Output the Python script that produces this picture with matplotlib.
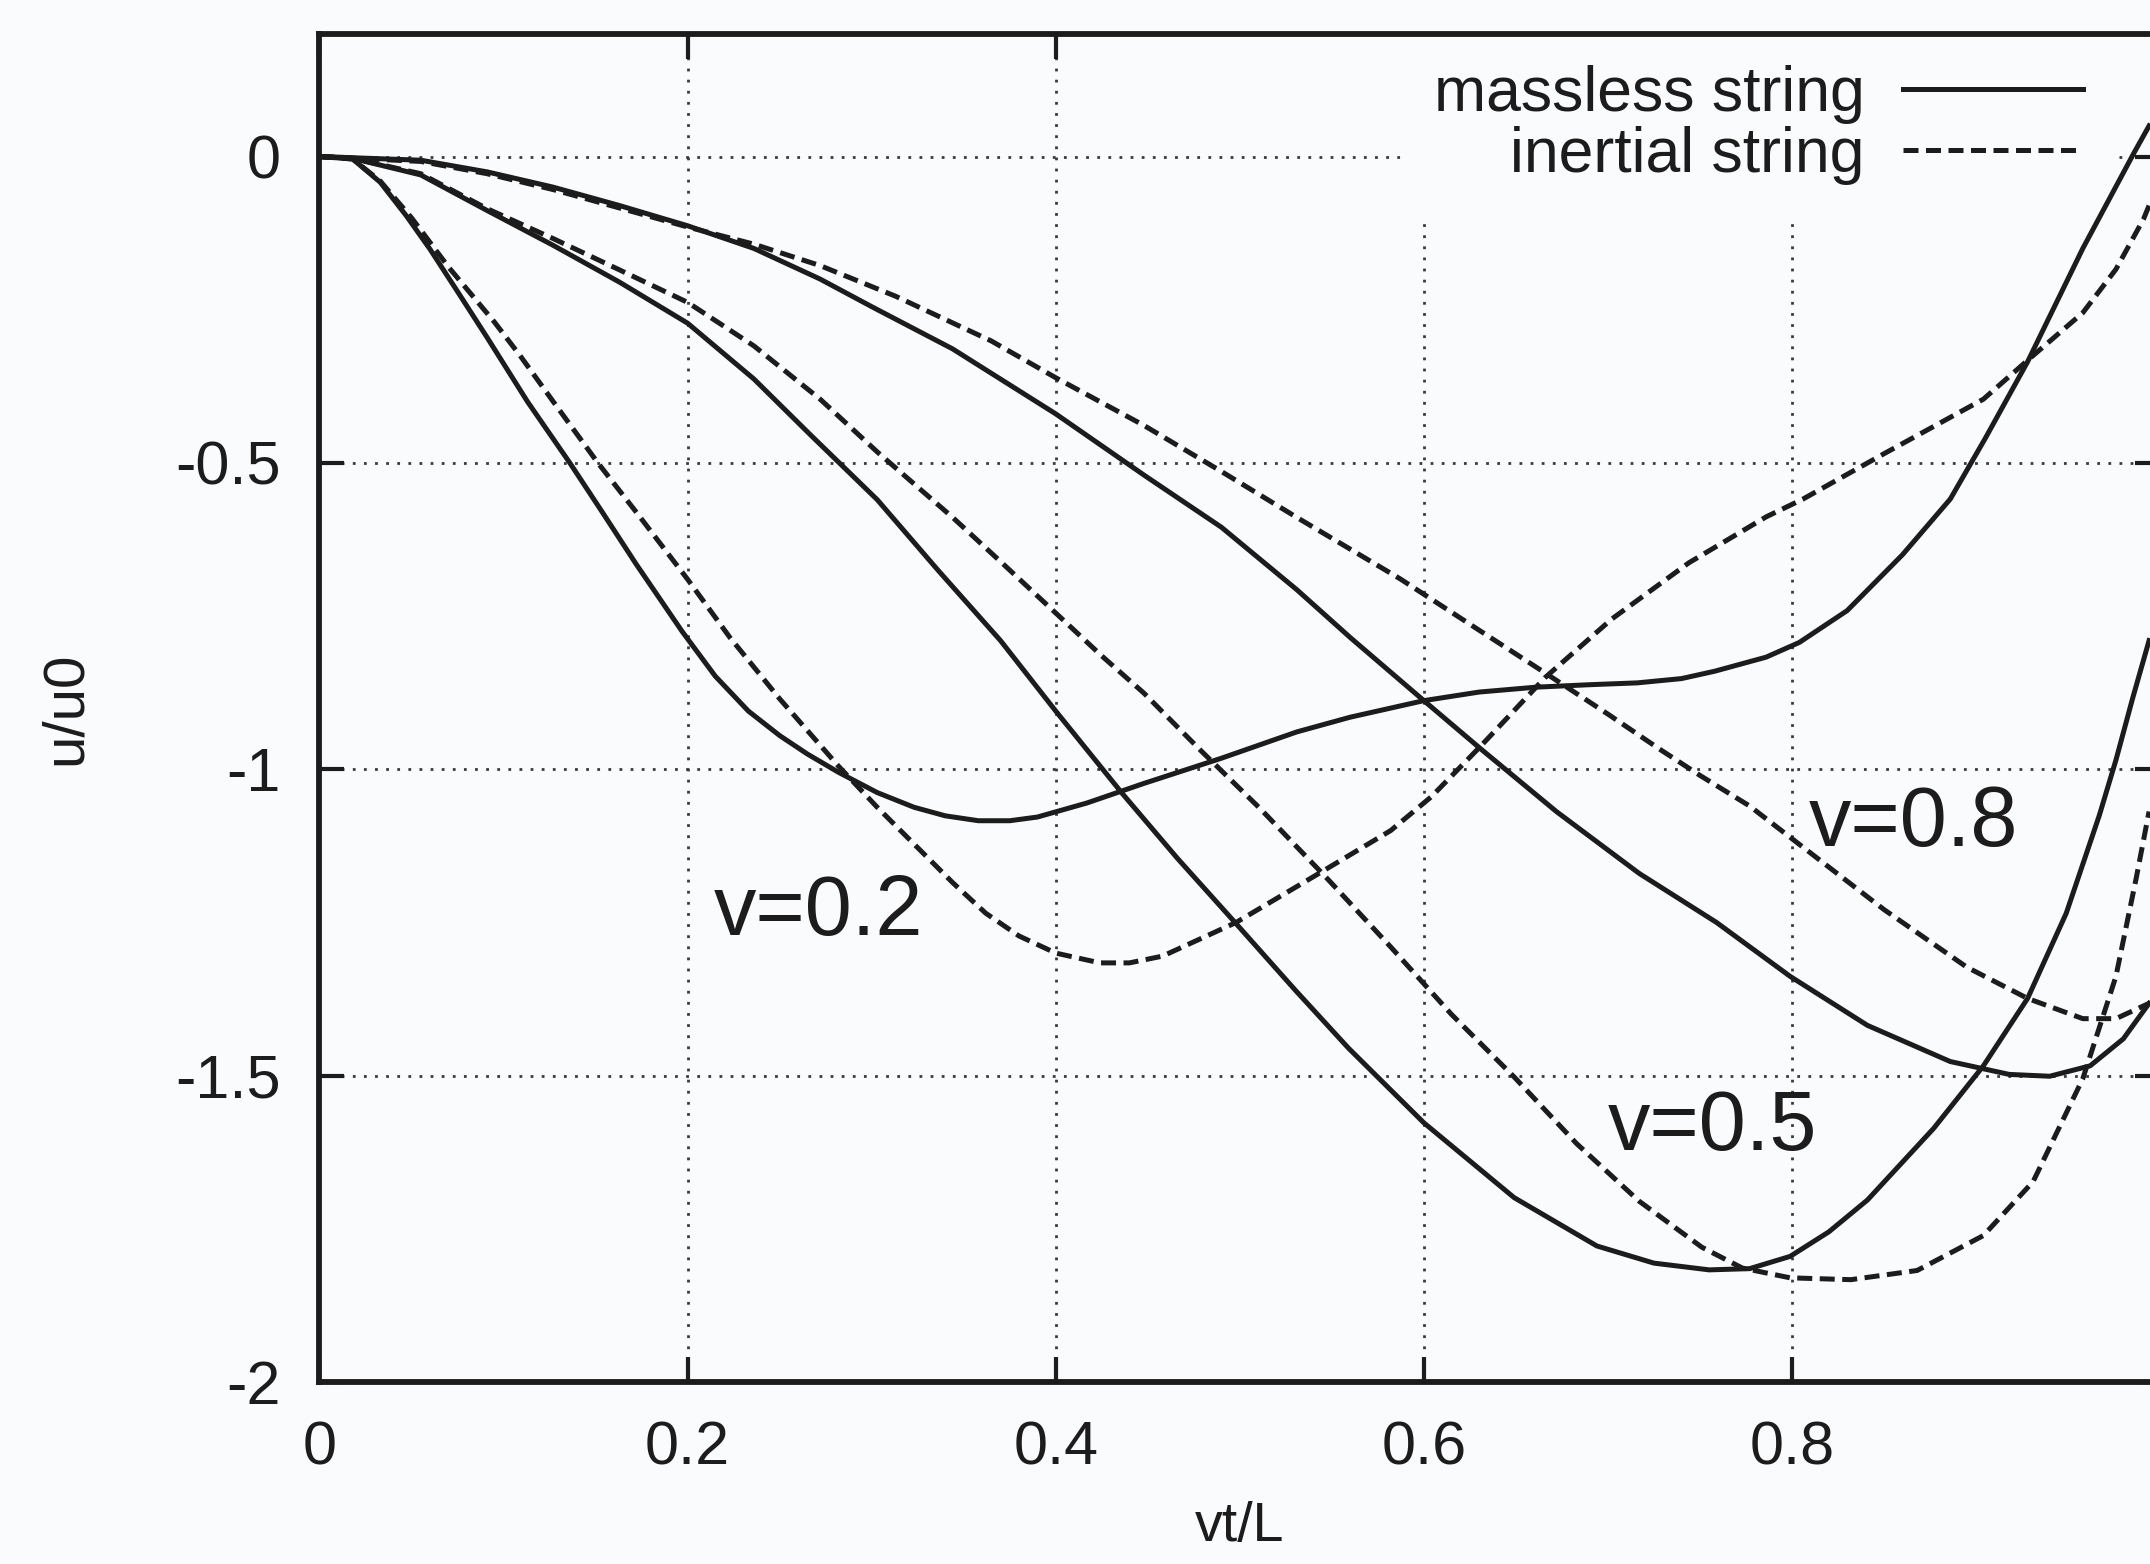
import matplotlib
matplotlib.use("Agg")
import matplotlib.pyplot as plt

plt.rcParams['font.family'] = ['Liberation Sans', 'DejaVu Sans']
plt.rcParams['axes.unicode_minus'] = False

# ---------------- data ----------------
v02_massless_x = [0.000, 0.018, 0.033, 0.047, 0.060, 0.076, 0.091, 0.113, 0.136, 0.154, 0.172, 0.197,
                  0.215, 0.233, 0.250, 0.265, 0.282, 0.303, 0.323, 0.340, 0.358, 0.375, 0.390, 0.417,
                  0.448, 0.490, 0.531, 0.560, 0.600, 0.630, 0.661, 0.690, 0.716, 0.740, 0.758, 0.786,
                  0.804, 0.830, 0.860, 0.886, 0.905, 0.928, 0.958, 0.986, 0.994]
v02_massless_y = [0.000, -0.004, -0.042, -0.096, -0.151, -0.225, -0.295, -0.400, -0.500, -0.582, -0.665, -0.775,
                  -0.848, -0.905, -0.945, -0.975, -1.005, -1.038, -1.062, -1.076, -1.084, -1.084, -1.078, -1.055,
                  -1.023, -0.982, -0.939, -0.915, -0.888, -0.874, -0.866, -0.862, -0.859, -0.852, -0.840, -0.817,
                  -0.793, -0.741, -0.650, -0.559, -0.460, -0.335, -0.150, 0.007, 0.050]

v02_inertial_x = [0.000, 0.018, 0.033, 0.050, 0.070, 0.095, 0.109, 0.127, 0.151, 0.172, 0.200, 0.223,
                  0.250, 0.282, 0.303, 0.323, 0.344, 0.362, 0.380, 0.400, 0.424, 0.440, 0.458, 0.498,
                  0.543, 0.582, 0.604, 0.630, 0.666, 0.702, 0.744, 0.786, 0.806, 0.850, 0.904, 0.929,
                  0.958, 0.976, 0.991, 0.994]
v02_inertial_y = [0.000, -0.004, -0.040, -0.100, -0.180, -0.270, -0.325, -0.400, -0.499, -0.580, -0.690, -0.785,
                  -0.885, -0.995, -1.062, -1.122, -1.185, -1.235, -1.272, -1.300, -1.316, -1.316, -1.305, -1.250,
                  -1.170, -1.100, -1.045, -0.965, -0.850, -0.755, -0.663, -0.588, -0.559, -0.485, -0.396, -0.330,
                  -0.255, -0.184, -0.102, -0.080]

v05_massless_x = [0.000, 0.018, 0.055, 0.091, 0.127, 0.163, 0.200, 0.236, 0.267, 0.303, 0.336, 0.370,
                  0.400, 0.436, 0.466, 0.498, 0.530, 0.559, 0.600, 0.649, 0.694, 0.725, 0.755, 0.777,
                  0.799, 0.820, 0.841, 0.877, 0.904, 0.928, 0.949, 0.967, 0.976, 0.985, 0.994]
v05_massless_y = [0.000, -0.003, -0.030, -0.088, -0.145, -0.205, -0.272, -0.363, -0.455, -0.560, -0.675, -0.790,
                  -0.905, -1.039, -1.145, -1.252, -1.360, -1.455, -1.577, -1.699, -1.778, -1.806, -1.817, -1.815,
                  -1.795, -1.755, -1.703, -1.586, -1.484, -1.374, -1.235, -1.075, -0.985, -0.885, -0.790]

v05_inertial_x = [0.000, 0.018, 0.055, 0.091, 0.127, 0.163, 0.200, 0.236, 0.272, 0.303, 0.344, 0.370,
                  0.400, 0.425, 0.448, 0.479, 0.511, 0.548, 0.582, 0.615, 0.649, 0.683, 0.717, 0.751,
                  0.773, 0.799, 0.832, 0.868, 0.904, 0.931, 0.958, 0.976, 0.987, 0.994]
v05_inertial_y = [0.000, -0.003, -0.028, -0.085, -0.134, -0.185, -0.238, -0.309, -0.396, -0.482, -0.589, -0.661,
                  -0.745, -0.815, -0.876, -0.970, -1.064, -1.180, -1.290, -1.400, -1.502, -1.611, -1.705, -1.780,
                  -1.814, -1.830, -1.833, -1.818, -1.761, -1.673, -1.505, -1.338, -1.178, -1.069]

v08_massless_x = [0.000, 0.055, 0.091, 0.127, 0.163, 0.200, 0.236, 0.272, 0.300, 0.344, 0.400, 0.448,
                  0.490, 0.531, 0.560, 0.600, 0.631, 0.672, 0.717, 0.759, 0.799, 0.841, 0.886, 0.918,
                  0.940, 0.962, 0.980, 0.994]
v08_massless_y = [0.000, -0.006, -0.025, -0.050, -0.080, -0.113, -0.150, -0.200, -0.245, -0.314, -0.420, -0.520,
                  -0.605, -0.707, -0.785, -0.888, -0.967, -1.069, -1.170, -1.250, -1.338, -1.418, -1.477, -1.498,
                  -1.501, -1.484, -1.440, -1.382]

v08_inertial_x = [0.000, 0.055, 0.091, 0.127, 0.163, 0.200, 0.236, 0.272, 0.313, 0.365, 0.400, 0.448,
                  0.490, 0.531, 0.587, 0.630, 0.666, 0.700, 0.728, 0.750, 0.777, 0.799, 0.850, 0.895,
                  0.928, 0.958, 0.976, 0.994]
v08_inertial_y = [0.000, -0.008, -0.028, -0.054, -0.084, -0.115, -0.143, -0.178, -0.228, -0.301, -0.361, -0.439,
                  -0.514, -0.589, -0.689, -0.773, -0.843, -0.910, -0.967, -1.010, -1.060, -1.111, -1.229, -1.323,
                  -1.374, -1.407, -1.407, -1.382]

curve_labels = ["v=0.2", "v=0.5", "v=0.8"]
curve_label_x = [0.271, 0.7565, 0.866]
curve_label_y = [-1.270, -1.622, -1.126]

legend_labels = ["massless string", "inertial string"]

x_ticks = [0.0, 0.2, 0.4, 0.6, 0.8]
x_tick_labels = ["0", "0.2", "0.4", "0.6", "0.8"]
y_ticks = [0.0, -0.5, -1.0, -1.5, -2.0]
y_tick_labels = ["0", "-0.5", "-1", "-1.5", "-2"]
x_label = "vt/L"
y_label = "u/u0"

# ---------------- drawing ----------------
bg = '#fafbfd'
ink = '#1c1c1c'
fig = plt.figure(figsize=(21.5, 15.64), dpi=100, facecolor=bg)
ax = fig.add_axes([0.1486, 0.11637, 0.8561, 0.8619], facecolor=bg)
ax.set_xlim(0.0, 1.0)
ax.set_ylim(-2.0, 0.2)

lw = 3.6
dash = (0, (3.0, 1.5))
ax.plot(v02_massless_x, v02_massless_y, color=ink, lw=lw, ls='-', label=legend_labels[0], zorder=3)
ax.plot(v02_inertial_x, v02_inertial_y, color=ink, lw=lw, ls=dash, label=legend_labels[1], zorder=3)
ax.plot(v05_massless_x, v05_massless_y, color=ink, lw=lw, ls='-', zorder=3)
ax.plot(v05_inertial_x, v05_inertial_y, color=ink, lw=lw, ls=dash, zorder=3)
ax.plot(v08_massless_x, v08_massless_y, color=ink, lw=lw, ls='-', zorder=3)
ax.plot(v08_inertial_x, v08_inertial_y, color=ink, lw=lw, ls=dash, zorder=3)

for lab, tx, ty in zip(curve_labels, curve_label_x, curve_label_y):
    ax.text(tx, ty, lab, ha='center', va='baseline', fontsize=61, color=ink, zorder=4)

ax.set_xticks(x_ticks)
ax.set_xticklabels(x_tick_labels)
ax.set_yticks(y_ticks)
ax.set_yticklabels(y_tick_labels)
ax.tick_params(direction='in', length=18, width=3, top=True, right=True,
               labelsize=44, pad=28, colors=ink)
ax.grid(True, linestyle=(0, (1, 3)), color='#3a3a3a', linewidth=2.0)
for s in ax.spines.values():
    s.set_linewidth(4.2)
    s.set_color(ink)

ax.set_xlabel(x_label, fontsize=40, color=ink)
ax.xaxis.set_label_coords(0.5, -0.0883)
ax.set_ylabel(y_label, fontsize=42, color=ink)
ax.yaxis.set_label_coords(-0.1377, 0.5)
ax.yaxis.label.set_verticalalignment('center')

leg = ax.legend(loc='upper right', bbox_to_anchor=(0.975, 1.000), borderaxespad=0.0,
                fontsize=45, markerfirst=False, handlelength=2.88, handletextpad=0.61,
                borderpad=0.5, labelspacing=0.03, frameon=True, fancybox=False)
leg.get_frame().set_facecolor(bg)
leg.get_frame().set_edgecolor('none')
leg.get_frame().set_alpha(1.0)
leg.set_zorder(1.7)
for t in leg.get_texts():
    t.set_color(ink)

fig.savefig("out.png", dpi=100, facecolor=bg)
